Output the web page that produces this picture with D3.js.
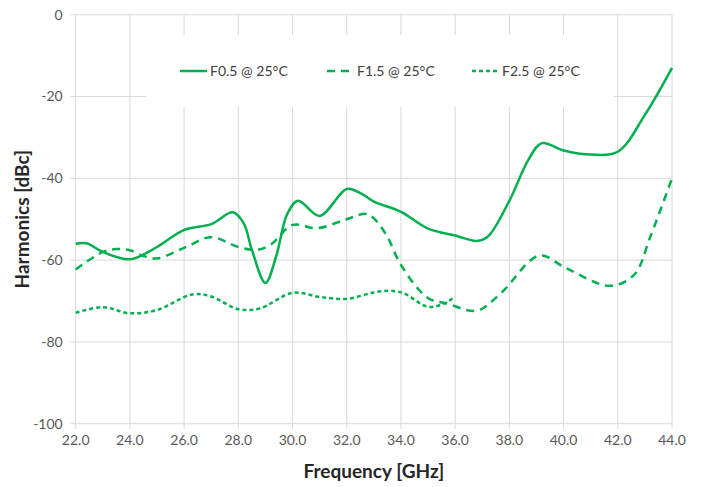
<!DOCTYPE html>
<html><head><meta charset="utf-8">
<script src="https://cdn.jsdelivr.net/npm/d3@7"></script>
<style>body{margin:0;background:#fff;} svg{display:block;font-family:Lato,"Open Sans",sans-serif;}</style>
</head><body>
<svg id="c" width="702" height="487"></svg>
<script>
const seriesNames = ["F0.5 @ 25°C", "F1.5 @ 25°C", "F2.5 @ 25°C"];
const f05Freq = [22,22.4,23,24,25,26,27,27.8,28.2,28.5,29,29.4,29.8,30.2,31,32,32.5,33,34,35,36,36.8,37.2,38,38.7,39.2,40,41,42,43,44];
const f05Vals = [-56,-55.9,-58,-59.8,-56.8,-52.6,-51.2,-48.3,-51,-57.5,-65.6,-59,-48.8,-45.5,-49.2,-42.6,-43.6,-45.7,-48.2,-52.3,-54,-55.3,-54.3,-45.5,-35.5,-31.4,-33.2,-34.2,-33.5,-24.5,-13];
const f15Freq = [22,23,23.5,24,24.5,25,26,27,28,28.7,29.2,30,30.9,32,32.7,33,33.5,34,35,35.7,36.8,37.7,39.1,40.1,41.7,42.6,43.2,44];
const f15Vals = [-62.3,-58,-57.3,-57.6,-59,-59.6,-57,-54.4,-56.8,-57.5,-56.2,-51.4,-52.2,-50,-48.7,-49.8,-54.3,-61.2,-69.3,-70.6,-72.4,-68,-58.9,-62,-66.3,-63.6,-54.3,-40];
const f25Freq = [22,23,24,25,26.3,27,28,28.8,30,31,32,33,33.6,34.1,35,35.6,36];
const f25Vals = [-72.9,-71.5,-73,-72.2,-68.4,-68.9,-72,-71.8,-68,-69,-69.5,-67.9,-67.5,-68.1,-71.4,-70.6,-68.9];
const xTicks = [22,24,26,28,30,32,34,36,38,40,42,44];
const yTicks = [0,-20,-40,-60,-80,-100];

const svg = d3.select("#c");
const L=75.7, R=672, T=14.7, B=423.7;
const x = d3.scaleLinear().domain([22,44]).range([L,R]);
const y = d3.scaleLinear().domain([-100,0]).range([B,T]);
const grid = "#d9d9d9";
const green = "#00b050";
const tickCol = "#595959";

const g = svg.append("g");
g.selectAll(".hg").data(yTicks).join("line")
 .attr("x1",L-5).attr("x2",R).attr("y1",d=>y(d)).attr("y2",d=>y(d))
 .attr("stroke",grid).attr("stroke-width",1);
g.selectAll(".vg").data(xTicks).join("line")
 .attr("y1",T).attr("y2",B+5).attr("x1",d=>x(d)).attr("x2",d=>x(d))
 .attr("stroke",grid).attr("stroke-width",1);

g.selectAll(".yl").data(yTicks).join("text")
 .attr("x",L-13).attr("y",d=>y(d)).attr("dy","0.35em").attr("text-anchor","end")
 .attr("font-size",14).attr("fill",tickCol).text(d=>String(d));
g.selectAll(".xl").data(xTicks).join("text")
 .attr("x",d=>x(d)).attr("y",B+21).attr("text-anchor","middle")
 .attr("font-size",14).attr("fill",tickCol).text(d=>d.toFixed(1));

svg.append("text").attr("x",(L+R)/2).attr("y",478).attr("text-anchor","middle")
 .attr("font-size",19).attr("font-weight","bold").attr("fill","#262626").text("Frequency [GHz]");
svg.append("text").attr("transform",`translate(29,${(T+B)/2}) rotate(-90)`).attr("text-anchor","middle")
 .attr("font-size",19).attr("font-weight","bold").attr("fill","#262626").text("Harmonics [dBc]");

svg.append("rect").attr("x",146).attr("y",35).attr("width",468).attr("height",72).attr("fill","#fff");

const line = d3.line().x(d=>x(d[0])).y(d=>y(d[1])).curve(d3.curveCatmullRom.alpha(0.5));
const series = [
 {name:seriesNames[0], data:d3.zip(f05Freq,f05Vals), dash:null},
 {name:seriesNames[1], data:d3.zip(f15Freq,f15Vals), dash:"8,6"},
 {name:seriesNames[2], data:d3.zip(f25Freq,f25Vals), dash:"4,3"}
];
series.forEach(s=>{
 svg.append("path").attr("d",line(s.data)).attr("fill","none").attr("stroke",green)
  .attr("stroke-width",2.5).attr("stroke-dasharray",s.dash);
});

const legX = [180, 327, 472];
series.forEach((s,i)=>{
 svg.append("line").attr("x1",legX[i]).attr("x2",legX[i]+27).attr("y1",71).attr("y2",71)
  .attr("stroke",green).attr("stroke-width",2.5).attr("stroke-dasharray",s.dash);
 svg.append("text").attr("x",legX[i]+30).attr("y",71).attr("dy","0.35em")
  .attr("font-size",14).attr("fill","#404040").text(s.name);
});
</script>
</body></html>
